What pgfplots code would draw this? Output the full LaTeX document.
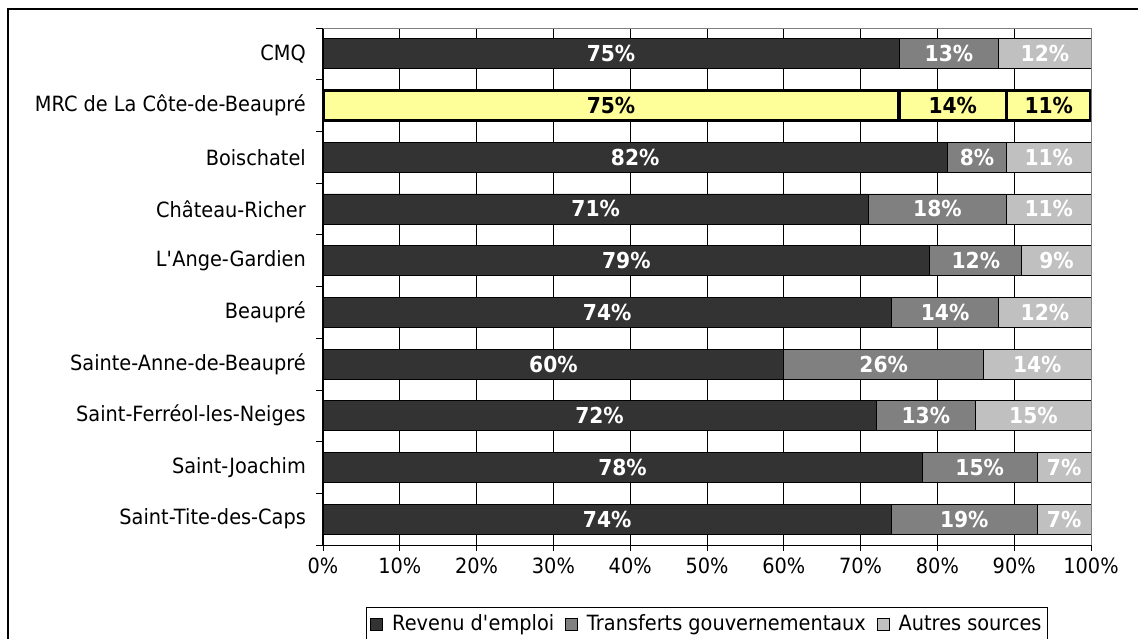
\documentclass[border=0pt]{standalone}
\usepackage{pgfplots}
\pgfplotsset{compat=1.18}
\usepackage{pgfplotstable}
\usepackage{fontspec}
\setmainfont{DejaVu Sans}[FakeStretch=0.92]

\definecolor{dark}{HTML}{333333}
\definecolor{mid}{HTML}{808080}
\definecolor{light}{HTML}{C0C0C0}
\definecolor{hilite}{HTML}{FFFF99}

% y: 9 = CMQ (top) ... 0 = Saint-Tite-des-Caps (bottom); m = printed label
\pgfplotstableread{
y x m
9 75 75
8 75 75
7 81.3 82
6 71 71
5 79 79
4 74 74
3 60 60
2 72 72
1 78 78
0 74 74
}\emploi
\pgfplotstableread{
y x m
9 13 13
8 14 14
7 7.7 8
6 18 18
5 12 12
4 14 14
3 26 26
2 13 13
1 15 15
0 19 19
}\transferts
\pgfplotstableread{
y x m
9 12 12
8 11 11
7 11 11
6 11 11
5 9 9
4 12 12
3 14 14
2 15 15
1 7 7
0 7 7
}\autres
% MRC de La Cote-de-Beaupre, highlighted
\pgfplotstableread{
y x m
8 75 75
}\mrcA
\pgfplotstableread{
y x m
8 14 14
}\mrcB
\pgfplotstableread{
y x m
8 11 11
}\mrcC

\pgfplotsset{
  base/.style={
    scale only axis, width=768pt, height=517pt,
    at={(323pt,-545pt)}, anchor=south west,
    xmin=0, xmax=100, ymin=-0.5, ymax=9.5,
    xbar stacked, bar width=0.58,
    point meta=explicit,
    /pgf/number format/assume math mode=true,
    nodes near coords={\pgfmathprintnumber{\pgfplotspointmeta}\%},
    every node near coord/.append style={anchor=center, font=\fontsize{22}{26}\selectfont\bfseries},
  },
}

\begin{document}
\fontsize{21}{25}\selectfont
\begin{tikzpicture}
\draw[line width=1.2pt] (8pt,-700pt) -- (8pt,-9pt) -- (1200pt,-9pt);
\begin{axis}[base,
  axis lines=left, axis line style={-, black, line width=1pt},
  tick align=outside, major tick length=6pt, minor tick length=7pt,
  tick style={black, line width=0.8pt},
  xtick={0,10,...,100},
  xticklabels={0\%,10\%,20\%,30\%,40\%,50\%,60\%,70\%,80\%,90\%,100\%},
  ytick={0,...,9},
  yticklabels={Saint-Tite-des-Caps, Saint-Joachim, Saint-Ferréol-les-Neiges,
    Sainte-Anne-de-Beaupré, Beaupré, L\textquotesingle Ange-Gardien, Château-Richer,
    Boischatel, MRC de La Côte-de-Beaupré, CMQ},
  major y tick style={draw=none},
  minor ytick={-0.5,0.5,...,9.5},
  minor y tick style={draw=black},
  yticklabel style={xshift=-4pt},
  xmajorgrids, major grid style={black, line width=0.8pt},
  after end axis/.code={
    \draw[mid, line width=1pt] (axis description cs:0,1) -- (axis description cs:1,1) -- (axis description cs:1,0);
  },
  legend style={at={(0.5,-0.12)}, anchor=north, legend columns=3,
    draw=black, line width=1pt, inner xsep=4pt, inner ysep=5pt,
    /tikz/every odd column/.append style={column sep=7pt},
    /tikz/every even column/.append style={column sep=9pt}},
  legend image code/.code={\draw[#1, line width=0.8pt] (0pt,-6pt) rectangle (12pt,6pt);},
]
\addplot[fill=dark, draw=black, line width=0.8pt, nodes near coords style={text=white}]
  table[x=x, y=y, meta=m] {\emploi};
\addplot[fill=mid, draw=black, line width=0.8pt, nodes near coords style={text=white}]
  table[x=x, y=y, meta=m] {\transferts};
\addplot[fill=light, draw=black, line width=0.8pt, nodes near coords style={text=white}]
  table[x=x, y=y, meta=m] {\autres};
\legend{Revenu d\textquotesingle emploi, Transferts gouvernementaux, Autres sources}
\end{axis}
\begin{axis}[base, hide axis]
\addplot[fill=hilite, draw=black, line width=3.5pt, nodes near coords style={text=black}]
  table[x=x, y=y, meta=m] {\mrcA};
\addplot[fill=hilite, draw=black, line width=3.5pt, nodes near coords style={text=black}]
  table[x=x, y=y, meta=m] {\mrcB};
\addplot[fill=hilite, draw=black, line width=3.5pt, nodes near coords style={text=black}]
  table[x=x, y=y, meta=m] {\mrcC};
\end{axis}
\pgfresetboundingbox
\useasboundingbox (0,0) rectangle (1138pt,-639pt);
\end{tikzpicture}
\end{document}
